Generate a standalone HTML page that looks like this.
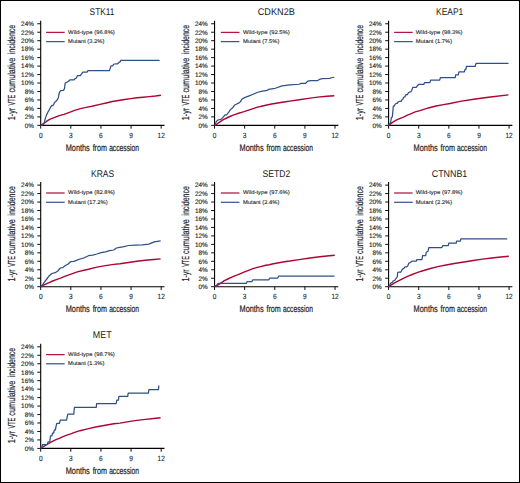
<!DOCTYPE html>
<html><head><meta charset="utf-8"><style>
html,body{margin:0;padding:0;background:#fff;}
body{width:520px;height:483px;overflow:hidden;}
svg{display:block;}
text{font-family:"Liberation Sans",sans-serif;fill:#262626;stroke:#262626;stroke-width:0.14px;text-rendering:geometricPrecision;}
.yt{font-size:6.4px;}
.xt{font-size:7.6px;stroke-width:0.12px;}
.xl{font-size:9.6px;stroke-width:0.22px;}
.yl{font-size:10.2px;stroke-width:0.2px;}
.ti{font-size:9.7px;fill:#1a1a1a;stroke-width:0;}
.lg{font-size:5.3px;stroke-width:0.1px;fill:#1a1a1a;stroke:#1a1a1a;}
</style></head><body>
<svg width="520" height="483" viewBox="0 0 520 483">
<rect x="0.5" y="0.5" width="519" height="482" fill="#fff" stroke="#000" stroke-width="1"/>
<path d="M40.7 20.66V125.35H164.48" fill="none" stroke="#000" stroke-width="1.1"/>
<path d="M37.3 125.35H40.7M37.3 116.88H40.7M37.3 108.42H40.7M37.3 99.95H40.7M37.3 91.49H40.7M37.3 83.02H40.7M37.3 74.55H40.7M37.3 66.09H40.7M37.3 57.62H40.7M37.3 49.16H40.7M37.3 40.69H40.7M37.3 32.22H40.7M37.3 23.76H40.7M40.7 125.35V128.65M70.82 125.35V128.65M100.94 125.35V128.65M131.06 125.35V128.65M161.18 125.35V128.65" fill="none" stroke="#000" stroke-width="0.95"/>
<text class="yt" x="33.9" y="127.65" text-anchor="end">0%</text>
<text class="yt" x="33.9" y="119.18" text-anchor="end">2%</text>
<text class="yt" x="33.9" y="110.72" text-anchor="end">4%</text>
<text class="yt" x="33.9" y="102.25" text-anchor="end">6%</text>
<text class="yt" x="33.9" y="93.79" text-anchor="end">8%</text>
<text class="yt" x="33.9" y="85.32" text-anchor="end">10%</text>
<text class="yt" x="33.9" y="76.85" text-anchor="end">12%</text>
<text class="yt" x="33.9" y="68.39" text-anchor="end">14%</text>
<text class="yt" x="33.9" y="59.92" text-anchor="end">16%</text>
<text class="yt" x="33.9" y="51.46" text-anchor="end">18%</text>
<text class="yt" x="33.9" y="42.99" text-anchor="end">20%</text>
<text class="yt" x="33.9" y="34.52" text-anchor="end">22%</text>
<text class="yt" x="33.9" y="26.06" text-anchor="end">24%</text>
<text class="xt" x="38.88" y="137.85" textLength="3.64" lengthAdjust="spacingAndGlyphs">0</text>
<text class="xt" x="69" y="137.85" textLength="3.64" lengthAdjust="spacingAndGlyphs">3</text>
<text class="xt" x="99.12" y="137.85" textLength="3.64" lengthAdjust="spacingAndGlyphs">6</text>
<text class="xt" x="129.24" y="137.85" textLength="3.64" lengthAdjust="spacingAndGlyphs">9</text>
<text class="xt" x="157.54" y="137.85" textLength="7.27" lengthAdjust="spacingAndGlyphs">12</text>
<text class="xl" x="65.71" y="150.75" textLength="24.08" lengthAdjust="spacingAndGlyphs">Months</text>
<text class="xl" x="92.63" y="150.75" textLength="14.37" lengthAdjust="spacingAndGlyphs">from</text>
<text class="xl" x="109.13" y="150.75" textLength="29.92" lengthAdjust="spacingAndGlyphs">accession</text>
<text class="yl" transform="translate(15.2 120.17) rotate(-90)" textLength="12.26" lengthAdjust="spacingAndGlyphs">1-yr</text>
<text class="yl" transform="translate(15.2 105.46) rotate(-90)" textLength="10.7" lengthAdjust="spacingAndGlyphs">VTE</text>
<text class="yl" transform="translate(15.2 92.59) rotate(-90)" textLength="34.85" lengthAdjust="spacingAndGlyphs">cumulative</text>
<text class="yl" transform="translate(15.2 54.29) rotate(-90)" textLength="29.5" lengthAdjust="spacingAndGlyphs">incidence</text>
<text class="ti" x="89.58" y="15.1" textLength="24.86" lengthAdjust="spacingAndGlyphs">STK11</text>
<path d="M46.1 32.4H64.7" stroke="#b3163f" stroke-width="1.25"/>
<path d="M46.1 41.6H64.7" stroke="#3a5789" stroke-width="1.25"/>
<text class="lg" transform="translate(68.1 33.7) scale(1.11 1)">Wild-type (96.8%)</text>
<text class="lg" transform="translate(68.1 42.9) scale(1.09 1)">Mutant (3.2%)</text>
<polyline points="40.7,125.4 41.3,124.95 43.9,123.35 46.4,121.45 49.6,119.45 52.8,118.15 56,116.95 59.3,115.65 64,114.35 68.8,112.55 74.6,110.35 80.4,108.65 86.2,107.35 91.9,106.25 100,104.35 106.2,102.95 112.3,101.45 118.5,100.45 124.6,99.45 130.8,98.65 136.9,97.75 143.1,97.25 149.2,96.65 155.4,96.05 160.9,95.25" fill="none" stroke="#ae0532" stroke-width="1.4" stroke-linejoin="round"/>
<polyline points="40.7,125.4 41.3,125.25 43.2,124.65 44.2,123.05 44.8,120.45 45.5,117.85 46.4,115.35 47.7,112.45 48.7,110.85 49.9,108.55 51.2,106.35 51.9,105.35 52.8,105.65 53.8,104.35 54.4,102.45 55.7,101.55 57,100.25 58.3,97.95 59.2,93.15 60.6,90.55 63.4,90.35 64.5,88.55 65.2,82.95 66.6,82.35 68.3,81.55 70.1,79.75 74,79.75 75,78.75 76.4,78.05 77.5,75.55 80.3,75.55 81.4,74.15 82.8,72.05 87,72.05 88,70.55 109.5,70.55 110.3,67.85 111.2,65.75 112.8,65.75 113.6,64.25 116,63.75 117.6,63.75 118.9,62.45 120,61.85 120.8,60.35 159.6,60.35" fill="none" stroke="#2e4f88" stroke-width="1.25" stroke-linejoin="round"/>
<path d="M214.55 20.66V125.35H338.33" fill="none" stroke="#000" stroke-width="1.1"/>
<path d="M211.15 125.35H214.55M211.15 116.88H214.55M211.15 108.42H214.55M211.15 99.95H214.55M211.15 91.49H214.55M211.15 83.02H214.55M211.15 74.55H214.55M211.15 66.09H214.55M211.15 57.62H214.55M211.15 49.16H214.55M211.15 40.69H214.55M211.15 32.22H214.55M211.15 23.76H214.55M214.55 125.35V128.65M244.67 125.35V128.65M274.79 125.35V128.65M304.91 125.35V128.65M335.03 125.35V128.65" fill="none" stroke="#000" stroke-width="0.95"/>
<text class="yt" x="207.75" y="127.65" text-anchor="end">0%</text>
<text class="yt" x="207.75" y="119.18" text-anchor="end">2%</text>
<text class="yt" x="207.75" y="110.72" text-anchor="end">4%</text>
<text class="yt" x="207.75" y="102.25" text-anchor="end">6%</text>
<text class="yt" x="207.75" y="93.79" text-anchor="end">8%</text>
<text class="yt" x="207.75" y="85.32" text-anchor="end">10%</text>
<text class="yt" x="207.75" y="76.85" text-anchor="end">12%</text>
<text class="yt" x="207.75" y="68.39" text-anchor="end">14%</text>
<text class="yt" x="207.75" y="59.92" text-anchor="end">16%</text>
<text class="yt" x="207.75" y="51.46" text-anchor="end">18%</text>
<text class="yt" x="207.75" y="42.99" text-anchor="end">20%</text>
<text class="yt" x="207.75" y="34.52" text-anchor="end">22%</text>
<text class="yt" x="207.75" y="26.06" text-anchor="end">24%</text>
<text class="xt" x="212.73" y="137.85" textLength="3.64" lengthAdjust="spacingAndGlyphs">0</text>
<text class="xt" x="242.85" y="137.85" textLength="3.64" lengthAdjust="spacingAndGlyphs">3</text>
<text class="xt" x="272.97" y="137.85" textLength="3.64" lengthAdjust="spacingAndGlyphs">6</text>
<text class="xt" x="303.09" y="137.85" textLength="3.64" lengthAdjust="spacingAndGlyphs">9</text>
<text class="xt" x="331.39" y="137.85" textLength="7.27" lengthAdjust="spacingAndGlyphs">12</text>
<text class="xl" x="239.56" y="150.75" textLength="24.08" lengthAdjust="spacingAndGlyphs">Months</text>
<text class="xl" x="266.48" y="150.75" textLength="14.37" lengthAdjust="spacingAndGlyphs">from</text>
<text class="xl" x="282.98" y="150.75" textLength="29.92" lengthAdjust="spacingAndGlyphs">accession</text>
<text class="yl" transform="translate(189.05 120.17) rotate(-90)" textLength="12.26" lengthAdjust="spacingAndGlyphs">1-yr</text>
<text class="yl" transform="translate(189.05 105.46) rotate(-90)" textLength="10.7" lengthAdjust="spacingAndGlyphs">VTE</text>
<text class="yl" transform="translate(189.05 92.59) rotate(-90)" textLength="34.85" lengthAdjust="spacingAndGlyphs">cumulative</text>
<text class="yl" transform="translate(189.05 54.29) rotate(-90)" textLength="29.5" lengthAdjust="spacingAndGlyphs">incidence</text>
<text class="ti" x="257.74" y="15.1" textLength="37.18" lengthAdjust="spacingAndGlyphs">CDKN2B</text>
<path d="M220.85 32.4H239.45" stroke="#b3163f" stroke-width="1.25"/>
<path d="M220.85 41.6H239.45" stroke="#3a5789" stroke-width="1.25"/>
<text class="lg" transform="translate(243.05 33.7) scale(1.11 1)">Wild-type (92.5%)</text>
<text class="lg" transform="translate(243.05 42.9) scale(1.09 1)">Mutant (7.5%)</text>
<polyline points="214.5,125.4 216.45,124.45 218.85,122.55 221.35,120.95 223.75,119.45 226.25,118.25 229.35,116.75 232.45,115.45 235.45,114.35 238.55,113.25 241.65,112.35 243.95,111.65 248.55,110.05 253.15,108.55 257.75,107.15 262.45,105.95 267.05,104.95 271.65,104.05 276.25,103.25 280.85,102.55 285.55,101.75 289.95,101.15 299.15,99.75 308.45,98.35 317.65,97.15 326.85,96.25 334.25,95.75" fill="none" stroke="#ae0532" stroke-width="1.4" stroke-linejoin="round"/>
<polyline points="214.5,125.4 215.15,124.65 216.15,121.85 217.35,120.35 218.85,119.75 221.35,119.15 222.55,117.85 223.75,116.35 225.05,114.85 226.55,114.85 227.45,113.85 228.75,112.05 229.95,110.25 231.15,108.95 232.45,108.05 233.65,106.25 234.85,104.95 236.75,104.05 238.55,103.15 240.45,101.85 241.35,100.05 242.15,98.95 244.55,97.65 248.55,96.05 253.15,94.25 257.75,92.25 262.45,91.15 267.05,90.35 268.55,89.45 273.45,88.55 275.35,88.25 282.05,85.95 289.95,84.95 299.15,84.25 301.05,83.45 305.65,83.45 307.45,81.45 310.25,80.65 317.65,80.55 319.45,79.45 322.25,78.65 329.65,78.45 331.45,77.75 334.25,77.25" fill="none" stroke="#2e4f88" stroke-width="1.25" stroke-linejoin="round"/>
<path d="M388.6 20.66V125.35H512.38" fill="none" stroke="#000" stroke-width="1.1"/>
<path d="M385.2 125.35H388.6M385.2 116.88H388.6M385.2 108.42H388.6M385.2 99.95H388.6M385.2 91.49H388.6M385.2 83.02H388.6M385.2 74.55H388.6M385.2 66.09H388.6M385.2 57.62H388.6M385.2 49.16H388.6M385.2 40.69H388.6M385.2 32.22H388.6M385.2 23.76H388.6M388.6 125.35V128.65M418.72 125.35V128.65M448.84 125.35V128.65M478.96 125.35V128.65M509.08 125.35V128.65" fill="none" stroke="#000" stroke-width="0.95"/>
<text class="yt" x="381.8" y="127.65" text-anchor="end">0%</text>
<text class="yt" x="381.8" y="119.18" text-anchor="end">2%</text>
<text class="yt" x="381.8" y="110.72" text-anchor="end">4%</text>
<text class="yt" x="381.8" y="102.25" text-anchor="end">6%</text>
<text class="yt" x="381.8" y="93.79" text-anchor="end">8%</text>
<text class="yt" x="381.8" y="85.32" text-anchor="end">10%</text>
<text class="yt" x="381.8" y="76.85" text-anchor="end">12%</text>
<text class="yt" x="381.8" y="68.39" text-anchor="end">14%</text>
<text class="yt" x="381.8" y="59.92" text-anchor="end">16%</text>
<text class="yt" x="381.8" y="51.46" text-anchor="end">18%</text>
<text class="yt" x="381.8" y="42.99" text-anchor="end">20%</text>
<text class="yt" x="381.8" y="34.52" text-anchor="end">22%</text>
<text class="yt" x="381.8" y="26.06" text-anchor="end">24%</text>
<text class="xt" x="386.78" y="137.85" textLength="3.64" lengthAdjust="spacingAndGlyphs">0</text>
<text class="xt" x="416.9" y="137.85" textLength="3.64" lengthAdjust="spacingAndGlyphs">3</text>
<text class="xt" x="447.02" y="137.85" textLength="3.64" lengthAdjust="spacingAndGlyphs">6</text>
<text class="xt" x="477.14" y="137.85" textLength="3.64" lengthAdjust="spacingAndGlyphs">9</text>
<text class="xt" x="505.44" y="137.85" textLength="7.27" lengthAdjust="spacingAndGlyphs">12</text>
<text class="xl" x="413.61" y="150.75" textLength="24.08" lengthAdjust="spacingAndGlyphs">Months</text>
<text class="xl" x="440.53" y="150.75" textLength="14.38" lengthAdjust="spacingAndGlyphs">from</text>
<text class="xl" x="457.03" y="150.75" textLength="29.92" lengthAdjust="spacingAndGlyphs">accession</text>
<text class="yl" transform="translate(363.1 120.17) rotate(-90)" textLength="12.26" lengthAdjust="spacingAndGlyphs">1-yr</text>
<text class="yl" transform="translate(363.1 105.46) rotate(-90)" textLength="10.7" lengthAdjust="spacingAndGlyphs">VTE</text>
<text class="yl" transform="translate(363.1 92.59) rotate(-90)" textLength="34.85" lengthAdjust="spacingAndGlyphs">cumulative</text>
<text class="yl" transform="translate(363.1 54.29) rotate(-90)" textLength="29.5" lengthAdjust="spacingAndGlyphs">incidence</text>
<text class="ti" x="436.02" y="15.1" textLength="27.23" lengthAdjust="spacingAndGlyphs">KEAP1</text>
<path d="M394.1 32.4H412.7" stroke="#b3163f" stroke-width="1.25"/>
<path d="M394.1 41.6H412.7" stroke="#3a5789" stroke-width="1.25"/>
<text class="lg" transform="translate(415.8 33.7) scale(1.11 1)">Wild-type (98.3%)</text>
<text class="lg" transform="translate(415.8 42.9) scale(1.09 1)">Mutant (1.7%)</text>
<polyline points="388.6,125.4 391.8,122.85 395.7,120.45 399.6,118.55 403.5,117.05 407.4,115.15 411.3,113.65 415.2,111.95 420,110.55 428.4,107.95 436,106.05 443.5,104.65 450,103.55 460.1,101.35 475.3,98.95 490.4,96.95 508.5,94.85" fill="none" stroke="#ae0532" stroke-width="1.4" stroke-linejoin="round"/>
<polyline points="388.6,125.4 390.4,122.85 390.9,120.95 391.4,117.55 392.3,117.05 392.8,112.15 393.3,106.35 394.3,105.85 395.3,103.95 396.2,103.45 397.2,103.45 398.2,101.95 399.1,101.45 401.1,101.45 402.1,99.55 403,99.05 403.5,97.55 405,96.65 406,94.65 407.4,94.65 408.4,92.75 409.9,91.95 410.8,91.95 411.8,90.25 412.8,87.35 416.2,87.35 417.6,85.45 418.6,84.45 423.8,84.45 424.6,82.55 429.9,82.55 430.6,80.05 439.7,80.05 440.5,77.55 455.3,77.55 455.6,74.75 458.3,74.75 458.9,71.95 464.4,71.95 465,69.45 465.9,69.45 466.5,66.35 475.3,66.35 476,63.35 508.5,63.35" fill="none" stroke="#2e4f88" stroke-width="1.25" stroke-linejoin="round"/>
<path d="M40.7 182.01V286.7H164.48" fill="none" stroke="#000" stroke-width="1.1"/>
<path d="M37.3 286.7H40.7M37.3 278.23H40.7M37.3 269.77H40.7M37.3 261.3H40.7M37.3 252.84H40.7M37.3 244.37H40.7M37.3 235.9H40.7M37.3 227.44H40.7M37.3 218.97H40.7M37.3 210.51H40.7M37.3 202.04H40.7M37.3 193.57H40.7M37.3 185.11H40.7M40.7 286.7V290M70.82 286.7V290M100.94 286.7V290M131.06 286.7V290M161.18 286.7V290" fill="none" stroke="#000" stroke-width="0.95"/>
<text class="yt" x="33.9" y="289" text-anchor="end">0%</text>
<text class="yt" x="33.9" y="280.53" text-anchor="end">2%</text>
<text class="yt" x="33.9" y="272.07" text-anchor="end">4%</text>
<text class="yt" x="33.9" y="263.6" text-anchor="end">6%</text>
<text class="yt" x="33.9" y="255.14" text-anchor="end">8%</text>
<text class="yt" x="33.9" y="246.67" text-anchor="end">10%</text>
<text class="yt" x="33.9" y="238.2" text-anchor="end">12%</text>
<text class="yt" x="33.9" y="229.74" text-anchor="end">14%</text>
<text class="yt" x="33.9" y="221.27" text-anchor="end">16%</text>
<text class="yt" x="33.9" y="212.81" text-anchor="end">18%</text>
<text class="yt" x="33.9" y="204.34" text-anchor="end">20%</text>
<text class="yt" x="33.9" y="195.87" text-anchor="end">22%</text>
<text class="yt" x="33.9" y="187.41" text-anchor="end">24%</text>
<text class="xt" x="38.88" y="299.2" textLength="3.64" lengthAdjust="spacingAndGlyphs">0</text>
<text class="xt" x="69" y="299.2" textLength="3.64" lengthAdjust="spacingAndGlyphs">3</text>
<text class="xt" x="99.12" y="299.2" textLength="3.64" lengthAdjust="spacingAndGlyphs">6</text>
<text class="xt" x="129.24" y="299.2" textLength="3.64" lengthAdjust="spacingAndGlyphs">9</text>
<text class="xt" x="157.54" y="299.2" textLength="7.27" lengthAdjust="spacingAndGlyphs">12</text>
<text class="xl" x="65.71" y="312.1" textLength="24.08" lengthAdjust="spacingAndGlyphs">Months</text>
<text class="xl" x="92.63" y="312.1" textLength="14.37" lengthAdjust="spacingAndGlyphs">from</text>
<text class="xl" x="109.13" y="312.1" textLength="29.92" lengthAdjust="spacingAndGlyphs">accession</text>
<text class="yl" transform="translate(15.2 281.52) rotate(-90)" textLength="12.26" lengthAdjust="spacingAndGlyphs">1-yr</text>
<text class="yl" transform="translate(15.2 266.81) rotate(-90)" textLength="10.7" lengthAdjust="spacingAndGlyphs">VTE</text>
<text class="yl" transform="translate(15.2 253.94) rotate(-90)" textLength="34.85" lengthAdjust="spacingAndGlyphs">cumulative</text>
<text class="yl" transform="translate(15.2 215.64) rotate(-90)" textLength="29.5" lengthAdjust="spacingAndGlyphs">incidence</text>
<text class="ti" x="91.02" y="176.5" textLength="23.15" lengthAdjust="spacingAndGlyphs">KRAS</text>
<path d="M46.1 193H64.7" stroke="#b3163f" stroke-width="1.25"/>
<path d="M46.1 202.3H64.7" stroke="#3a5789" stroke-width="1.25"/>
<text class="lg" transform="translate(68.1 194.3) scale(1.11 1)">Wild-type (82.8%)</text>
<text class="lg" transform="translate(68.1 203.6) scale(1.09 1)">Mutant (17.2%)</text>
<polyline points="40.7,286.7 41.7,286.1 45.1,284.4 48.5,282.8 52.7,281 56.9,279.3 61.2,277.8 65.4,276.2 69.6,274.6 73.8,273.1 78.1,271.6 84,270.2 88.5,269.2 96.9,267.1 105.4,265.6 113.8,264.4 120,263.8 128.5,262.5 136.9,261.3 145.4,260.3 153.8,259.5 160.6,258.9" fill="none" stroke="#ae0532" stroke-width="1.4" stroke-linejoin="round"/>
<polyline points="40.7,286.7 41.7,286.1 44.2,282.4 46.8,279 49.3,275.7 51.8,273.5 55.2,272.7 57.8,271 60.3,268 62.8,267.6 65.4,265.5 67.9,264.2 70.5,261.7 73.8,261.3 76.4,260.4 80,259 84.2,257.8 88.5,255.7 92.7,255.1 96.9,254 101.2,252.7 105.4,251.8 109.6,250.6 113.8,250 116.4,248 119.8,247.4 124,246.6 128.6,245.5 135.4,245.1 142.1,244.8 148.8,244.1 154.2,241.8 160.7,240.8" fill="none" stroke="#2e4f88" stroke-width="1.25" stroke-linejoin="round"/>
<path d="M214.55 182.01V286.7H338.33" fill="none" stroke="#000" stroke-width="1.1"/>
<path d="M211.15 286.7H214.55M211.15 278.23H214.55M211.15 269.77H214.55M211.15 261.3H214.55M211.15 252.84H214.55M211.15 244.37H214.55M211.15 235.9H214.55M211.15 227.44H214.55M211.15 218.97H214.55M211.15 210.51H214.55M211.15 202.04H214.55M211.15 193.57H214.55M211.15 185.11H214.55M214.55 286.7V290M244.67 286.7V290M274.79 286.7V290M304.91 286.7V290M335.03 286.7V290" fill="none" stroke="#000" stroke-width="0.95"/>
<text class="yt" x="207.75" y="289" text-anchor="end">0%</text>
<text class="yt" x="207.75" y="280.53" text-anchor="end">2%</text>
<text class="yt" x="207.75" y="272.07" text-anchor="end">4%</text>
<text class="yt" x="207.75" y="263.6" text-anchor="end">6%</text>
<text class="yt" x="207.75" y="255.14" text-anchor="end">8%</text>
<text class="yt" x="207.75" y="246.67" text-anchor="end">10%</text>
<text class="yt" x="207.75" y="238.2" text-anchor="end">12%</text>
<text class="yt" x="207.75" y="229.74" text-anchor="end">14%</text>
<text class="yt" x="207.75" y="221.27" text-anchor="end">16%</text>
<text class="yt" x="207.75" y="212.81" text-anchor="end">18%</text>
<text class="yt" x="207.75" y="204.34" text-anchor="end">20%</text>
<text class="yt" x="207.75" y="195.87" text-anchor="end">22%</text>
<text class="yt" x="207.75" y="187.41" text-anchor="end">24%</text>
<text class="xt" x="212.73" y="299.2" textLength="3.64" lengthAdjust="spacingAndGlyphs">0</text>
<text class="xt" x="242.85" y="299.2" textLength="3.64" lengthAdjust="spacingAndGlyphs">3</text>
<text class="xt" x="272.97" y="299.2" textLength="3.64" lengthAdjust="spacingAndGlyphs">6</text>
<text class="xt" x="303.09" y="299.2" textLength="3.64" lengthAdjust="spacingAndGlyphs">9</text>
<text class="xt" x="331.39" y="299.2" textLength="7.27" lengthAdjust="spacingAndGlyphs">12</text>
<text class="xl" x="239.56" y="312.1" textLength="24.08" lengthAdjust="spacingAndGlyphs">Months</text>
<text class="xl" x="266.48" y="312.1" textLength="14.37" lengthAdjust="spacingAndGlyphs">from</text>
<text class="xl" x="282.98" y="312.1" textLength="29.92" lengthAdjust="spacingAndGlyphs">accession</text>
<text class="yl" transform="translate(189.05 281.52) rotate(-90)" textLength="12.26" lengthAdjust="spacingAndGlyphs">1-yr</text>
<text class="yl" transform="translate(189.05 266.81) rotate(-90)" textLength="10.7" lengthAdjust="spacingAndGlyphs">VTE</text>
<text class="yl" transform="translate(189.05 253.94) rotate(-90)" textLength="34.85" lengthAdjust="spacingAndGlyphs">cumulative</text>
<text class="yl" transform="translate(189.05 215.64) rotate(-90)" textLength="29.5" lengthAdjust="spacingAndGlyphs">incidence</text>
<text class="ti" x="262.57" y="176.5" textLength="27.79" lengthAdjust="spacingAndGlyphs">SETD2</text>
<path d="M220.85 193H239.45" stroke="#b3163f" stroke-width="1.25"/>
<path d="M220.85 202.3H239.45" stroke="#3a5789" stroke-width="1.25"/>
<text class="lg" transform="translate(243.05 194.3) scale(1.11 1)">Wild-type (97.6%)</text>
<text class="lg" transform="translate(243.05 203.6) scale(1.09 1)">Mutant (2.4%)</text>
<polyline points="214.5,286.7 215.35,286.2 218.15,284.9 220.85,283.1 224.35,280.7 227.85,279 231.25,277.4 234.75,275.9 238.15,274.7 241.65,273.2 245.15,271.7 247.95,270.6 252.15,268.9 256.45,267.7 260.65,266.6 264.85,265.5 269.15,264.7 273.35,263.8 277.55,263 281.75,262.2 286.05,261.5 289.95,261 299.15,259.6 308.45,258.2 317.65,257 326.85,256 334.75,255.2" fill="none" stroke="#ae0532" stroke-width="1.4" stroke-linejoin="round"/>
<polyline points="214.55,286.7 216.85,285 218.15,283.4 246.45,283.4 247.05,281.6 251.95,281.6 252.85,279.8 268.85,279.8 269.75,278 277.75,278 278.65,276.2 334.55,276.2" fill="none" stroke="#2e4f88" stroke-width="1.25" stroke-linejoin="round"/>
<path d="M388.6 182.01V286.7H512.38" fill="none" stroke="#000" stroke-width="1.1"/>
<path d="M385.2 286.7H388.6M385.2 278.23H388.6M385.2 269.77H388.6M385.2 261.3H388.6M385.2 252.84H388.6M385.2 244.37H388.6M385.2 235.9H388.6M385.2 227.44H388.6M385.2 218.97H388.6M385.2 210.51H388.6M385.2 202.04H388.6M385.2 193.57H388.6M385.2 185.11H388.6M388.6 286.7V290M418.72 286.7V290M448.84 286.7V290M478.96 286.7V290M509.08 286.7V290" fill="none" stroke="#000" stroke-width="0.95"/>
<text class="yt" x="381.8" y="289" text-anchor="end">0%</text>
<text class="yt" x="381.8" y="280.53" text-anchor="end">2%</text>
<text class="yt" x="381.8" y="272.07" text-anchor="end">4%</text>
<text class="yt" x="381.8" y="263.6" text-anchor="end">6%</text>
<text class="yt" x="381.8" y="255.14" text-anchor="end">8%</text>
<text class="yt" x="381.8" y="246.67" text-anchor="end">10%</text>
<text class="yt" x="381.8" y="238.2" text-anchor="end">12%</text>
<text class="yt" x="381.8" y="229.74" text-anchor="end">14%</text>
<text class="yt" x="381.8" y="221.27" text-anchor="end">16%</text>
<text class="yt" x="381.8" y="212.81" text-anchor="end">18%</text>
<text class="yt" x="381.8" y="204.34" text-anchor="end">20%</text>
<text class="yt" x="381.8" y="195.87" text-anchor="end">22%</text>
<text class="yt" x="381.8" y="187.41" text-anchor="end">24%</text>
<text class="xt" x="386.78" y="299.2" textLength="3.64" lengthAdjust="spacingAndGlyphs">0</text>
<text class="xt" x="416.9" y="299.2" textLength="3.64" lengthAdjust="spacingAndGlyphs">3</text>
<text class="xt" x="447.02" y="299.2" textLength="3.64" lengthAdjust="spacingAndGlyphs">6</text>
<text class="xt" x="477.14" y="299.2" textLength="3.64" lengthAdjust="spacingAndGlyphs">9</text>
<text class="xt" x="505.44" y="299.2" textLength="7.27" lengthAdjust="spacingAndGlyphs">12</text>
<text class="xl" x="413.61" y="312.1" textLength="24.08" lengthAdjust="spacingAndGlyphs">Months</text>
<text class="xl" x="440.53" y="312.1" textLength="14.38" lengthAdjust="spacingAndGlyphs">from</text>
<text class="xl" x="457.03" y="312.1" textLength="29.92" lengthAdjust="spacingAndGlyphs">accession</text>
<text class="yl" transform="translate(363.1 281.52) rotate(-90)" textLength="12.26" lengthAdjust="spacingAndGlyphs">1-yr</text>
<text class="yl" transform="translate(363.1 266.81) rotate(-90)" textLength="10.7" lengthAdjust="spacingAndGlyphs">VTE</text>
<text class="yl" transform="translate(363.1 253.94) rotate(-90)" textLength="34.85" lengthAdjust="spacingAndGlyphs">cumulative</text>
<text class="yl" transform="translate(363.1 215.64) rotate(-90)" textLength="29.5" lengthAdjust="spacingAndGlyphs">incidence</text>
<text class="ti" x="431.76" y="176.5" textLength="35.49" lengthAdjust="spacingAndGlyphs">CTNNB1</text>
<path d="M394.1 193H412.7" stroke="#b3163f" stroke-width="1.25"/>
<path d="M394.1 202.3H412.7" stroke="#3a5789" stroke-width="1.25"/>
<text class="lg" transform="translate(415.8 194.3) scale(1.11 1)">Wild-type (97.8%)</text>
<text class="lg" transform="translate(415.8 203.6) scale(1.09 1)">Mutant (2.2%)</text>
<polyline points="388.6,286.7 389.4,286.1 392.2,284.3 394.9,282.6 398.4,280.9 401.9,279.1 405.3,277.4 408.8,275.9 412.2,274.5 415.7,273.1 419.2,271.9 422,271 430.5,268.5 438.9,266.4 447.4,264.7 455.8,263.3 464,262 473.2,260.5 482.5,259.1 491.7,258 500.9,257 508.8,256.3" fill="none" stroke="#ae0532" stroke-width="1.4" stroke-linejoin="round"/>
<polyline points="388.6,286.7 389.4,286 390.4,283.6 391.1,282.9 392.5,282.2 393.2,280.9 394.6,280.5 395.6,279.1 396.7,277.7 397.3,276.7 397.7,272.5 398.7,272.2 400.8,272.2 401.5,270.8 402.5,269.1 403.9,268.4 405,266.9 406.7,266.9 407.7,266 408.8,263.2 410.5,262.5 411.9,261.1 416.4,261.1 416.9,259.5 422,259.5 422.6,255.6 425.7,255.6 426.3,252.2 428,251.2 428.9,247.5 441.9,247.5 442.8,245.5 448.3,245.5 448.8,243.2 456.2,243.2 456.6,241.1 460.3,241.1 460.8,238.9 507.2,238.9" fill="none" stroke="#2e4f88" stroke-width="1.25" stroke-linejoin="round"/>
<path d="M40.7 343.71V448.4H164.48" fill="none" stroke="#000" stroke-width="1.1"/>
<path d="M37.3 448.4H40.7M37.3 439.93H40.7M37.3 431.47H40.7M37.3 423H40.7M37.3 414.54H40.7M37.3 406.07H40.7M37.3 397.6H40.7M37.3 389.14H40.7M37.3 380.67H40.7M37.3 372.21H40.7M37.3 363.74H40.7M37.3 355.27H40.7M37.3 346.81H40.7M40.7 448.4V451.7M70.82 448.4V451.7M100.94 448.4V451.7M131.06 448.4V451.7M161.18 448.4V451.7" fill="none" stroke="#000" stroke-width="0.95"/>
<text class="yt" x="33.9" y="450.7" text-anchor="end">0%</text>
<text class="yt" x="33.9" y="442.23" text-anchor="end">2%</text>
<text class="yt" x="33.9" y="433.77" text-anchor="end">4%</text>
<text class="yt" x="33.9" y="425.3" text-anchor="end">6%</text>
<text class="yt" x="33.9" y="416.84" text-anchor="end">8%</text>
<text class="yt" x="33.9" y="408.37" text-anchor="end">10%</text>
<text class="yt" x="33.9" y="399.9" text-anchor="end">12%</text>
<text class="yt" x="33.9" y="391.44" text-anchor="end">14%</text>
<text class="yt" x="33.9" y="382.97" text-anchor="end">16%</text>
<text class="yt" x="33.9" y="374.51" text-anchor="end">18%</text>
<text class="yt" x="33.9" y="366.04" text-anchor="end">20%</text>
<text class="yt" x="33.9" y="357.57" text-anchor="end">22%</text>
<text class="yt" x="33.9" y="349.11" text-anchor="end">24%</text>
<text class="xt" x="38.88" y="460.9" textLength="3.64" lengthAdjust="spacingAndGlyphs">0</text>
<text class="xt" x="69" y="460.9" textLength="3.64" lengthAdjust="spacingAndGlyphs">3</text>
<text class="xt" x="99.12" y="460.9" textLength="3.64" lengthAdjust="spacingAndGlyphs">6</text>
<text class="xt" x="129.24" y="460.9" textLength="3.64" lengthAdjust="spacingAndGlyphs">9</text>
<text class="xt" x="157.54" y="460.9" textLength="7.27" lengthAdjust="spacingAndGlyphs">12</text>
<text class="xl" x="65.71" y="473.8" textLength="24.08" lengthAdjust="spacingAndGlyphs">Months</text>
<text class="xl" x="92.63" y="473.8" textLength="14.37" lengthAdjust="spacingAndGlyphs">from</text>
<text class="xl" x="109.13" y="473.8" textLength="29.92" lengthAdjust="spacingAndGlyphs">accession</text>
<text class="yl" transform="translate(15.2 443.22) rotate(-90)" textLength="12.26" lengthAdjust="spacingAndGlyphs">1-yr</text>
<text class="yl" transform="translate(15.2 428.51) rotate(-90)" textLength="10.7" lengthAdjust="spacingAndGlyphs">VTE</text>
<text class="yl" transform="translate(15.2 415.64) rotate(-90)" textLength="34.85" lengthAdjust="spacingAndGlyphs">cumulative</text>
<text class="yl" transform="translate(15.2 377.34) rotate(-90)" textLength="29.5" lengthAdjust="spacingAndGlyphs">incidence</text>
<text class="ti" x="92.79" y="337.9" textLength="18.8" lengthAdjust="spacingAndGlyphs">MET</text>
<path d="M46.1 354.6H64.7" stroke="#b3163f" stroke-width="1.25"/>
<path d="M46.1 363.8H64.7" stroke="#3a5789" stroke-width="1.25"/>
<text class="lg" transform="translate(68.1 355.9) scale(1.11 1)">Wild-type (98.7%)</text>
<text class="lg" transform="translate(68.1 365.1) scale(1.09 1)">Mutant (1.3%)</text>
<polyline points="40.7,448.5 41.2,448 44.6,445.8 47.7,444 51.5,441.9 55.4,439.9 59.2,438.4 63.1,436.7 66.9,435.2 70.8,433.8 74.6,432.4 80,430.7 88.5,428.6 96.9,426.7 105.4,425.2 113.8,423.8 120,423.1 128.5,421.6 136.9,420.4 145.4,419.4 153.8,418.5 160.6,417.7" fill="none" stroke="#ae0532" stroke-width="1.4" stroke-linejoin="round"/>
<polyline points="40.7,448.4 41.9,446.9 42.6,444.5 47.4,444.5 48,441.8 49.8,441.8 50.5,435.8 51.9,435.8 52.6,433 53.7,433 54.4,429.8 55.4,429.8 56.1,426.1 56.8,423.3 59.5,423.3 60.2,420.1 66.5,420.1 67.2,416.8 67.9,414 73.8,414 74.4,407.3 96.3,407.3 96.6,403.5 116.2,403.5 116.8,400.1 118.4,400.1 118.9,396.3 127.7,396.3 128.2,393.1 148.4,393.1 148.9,389.5 158.5,389.5 158.8,385.5" fill="none" stroke="#2e4f88" stroke-width="1.25" stroke-linejoin="round"/>
</svg>
</body></html>
